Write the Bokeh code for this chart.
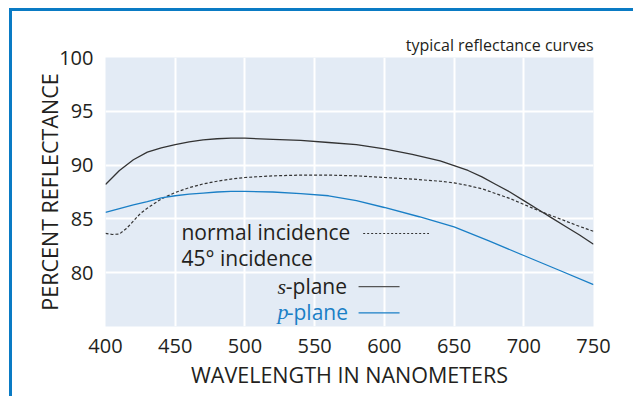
from bokeh.plotting import figure
from bokeh.models import Label, Range1d, FixedTicker
from bokeh.embed import file_html
from bokeh.resources import INLINE

# ---- data ----
wl_s = [400, 410, 420, 430, 440, 450, 460, 470, 480, 490, 500, 520, 540, 560, 580, 600,
        620, 640, 650, 660, 670, 680, 690, 700, 710, 720, 730, 740, 750]
s_plane = [88.2, 89.5, 90.5, 91.2, 91.6, 91.9, 92.15, 92.35, 92.45, 92.5, 92.5, 92.4, 92.3,
           92.1, 91.9, 91.5, 91.0, 90.4, 89.95, 89.5, 88.9, 88.2, 87.5, 86.7, 85.9, 85.1,
           84.3, 83.5, 82.65]

wl_n = [400, 405, 410, 415, 420, 425, 430, 440, 450, 460, 470, 480, 490, 500, 520, 540, 560,
        580, 600, 620, 640, 650, 660, 670, 680, 690, 700, 710, 720, 730, 740, 750]
normal = [83.65, 83.55, 83.6, 84.1, 84.8, 85.5, 86.0, 86.85, 87.45, 87.9, 88.25, 88.5, 88.7,
          88.85, 89.0, 89.07, 89.07, 89.0, 88.85, 88.7, 88.5, 88.35, 88.1, 87.8, 87.35, 86.9,
          86.35, 85.8, 85.3, 84.8, 84.3, 83.85]

wl_p = [400, 410, 420, 430, 440, 450, 460, 470, 480, 490, 500, 520, 540, 560, 580, 600, 625,
        650, 675, 700, 725, 750]
p_plane = [85.6, 85.95, 86.3, 86.6, 86.95, 87.15, 87.3, 87.4, 87.5, 87.55, 87.56, 87.5, 87.35,
           87.15, 86.7, 86.06, 85.2, 84.25, 82.95, 81.6, 80.25, 78.9]

x_ticks = [400, 450, 500, 550, 600, 650, 700, 750]
y_ticks = [80, 85, 90, 95, 100]

# ---- styling ----
FONT = "Open Sans"
TXT = "#231f20"
BLUE = "#1a7fc6"
FRAME_BLUE = "#0a7bc4"

p = figure(width=624, height=388, output_backend="svg", toolbar_location=None,
           x_range=Range1d(400, 750), y_range=Range1d(75, 100),
           min_border_left=93, min_border_right=43, min_border_top=46, min_border_bottom=73,
           title="typical reflectance curves")
p.styles = {"border-left": f"3px solid {FRAME_BLUE}", "border-top": f"3px solid {FRAME_BLUE}",
            "margin-left": "9px", "margin-top": "8px"}

p.title.align = "right"
p.title.text_font = FONT
p.title.text_font_size = "16px"
p.title.text_font_style = "normal"
p.title.text_color = TXT
p.title.standoff = 4

p.background_fill_color = "#e3ebf5"
p.border_fill_color = "white"
p.outline_line_color = None

for g in (p.xgrid, p.ygrid):
    g.grid_line_color = "white"
    g.grid_line_width = 2
p.xgrid.ticker = FixedTicker(ticks=x_ticks)
p.ygrid.ticker = FixedTicker(ticks=y_ticks)

p.xaxis.ticker = FixedTicker(ticks=x_ticks)
p.yaxis.ticker = FixedTicker(ticks=y_ticks)
for ax in (p.xaxis, p.yaxis):
    ax.axis_line_color = None
    ax.major_tick_line_color = None
    ax.minor_tick_line_color = None
    ax.major_label_text_font = FONT
    ax.major_label_text_font_size = "20px"
    ax.major_label_text_color = TXT
    ax.axis_label_text_font = FONT
    ax.axis_label_text_font_size = "21.5px"
    ax.axis_label_text_font_style = "normal"
    ax.axis_label_text_color = TXT
p.xaxis.axis_label = "WAVELENGTH IN NANOMETERS"
p.yaxis.axis_label = "PERCENT REFLECTANCE"
p.xaxis.major_label_standoff = 6
p.yaxis.major_label_standoff = 6
p.xaxis.axis_label_standoff = 4
p.yaxis.axis_label_standoff = -8

# ---- curves ----
p.line(wl_n, normal, line_color="#333333", line_width=1.2, line_dash="3 2")
p.line(wl_s, s_plane, line_color="#333333", line_width=1.3)
p.line(wl_p, p_plane, line_color=BLUE, line_width=1.3)

# ---- hand-made legend ----
def lab(x, y, text, color=TXT, font=FONT, style="normal", size="21px"):
    p.add_layout(Label(x=x, y=y, text=text, text_font=font, text_font_size=size,
                       text_color=color, text_font_style=style, text_baseline="alphabetic"))

lab(454.5, 83.74, "normal incidence")
lab(454.5, 81.36, "45° incidence")
lab(523.4, 78.72, "s", font="Liberation Serif", style="italic", size="22px")
lab(529.3, 78.72, "-plane")
lab(523.4, 76.36, "p", color=BLUE, font="Liberation Serif", style="italic", size="22px")
lab(530.0, 76.36, "-plane", color=BLUE)

p.segment(x0=[584.8], y0=[83.64], x1=[632.0], y1=[83.64], line_color="#333333",
          line_width=1.1, line_dash="2 2")
p.segment(x0=[581.5], y0=[78.7], x1=[610.9], y1=[78.7], line_color="#555555", line_width=1.3)
p.segment(x0=[581.5], y0=[76.27], x1=[610.9], y1=[76.27], line_color=BLUE, line_width=1.1)

open("out.html", "w").write(file_html(p, INLINE))
